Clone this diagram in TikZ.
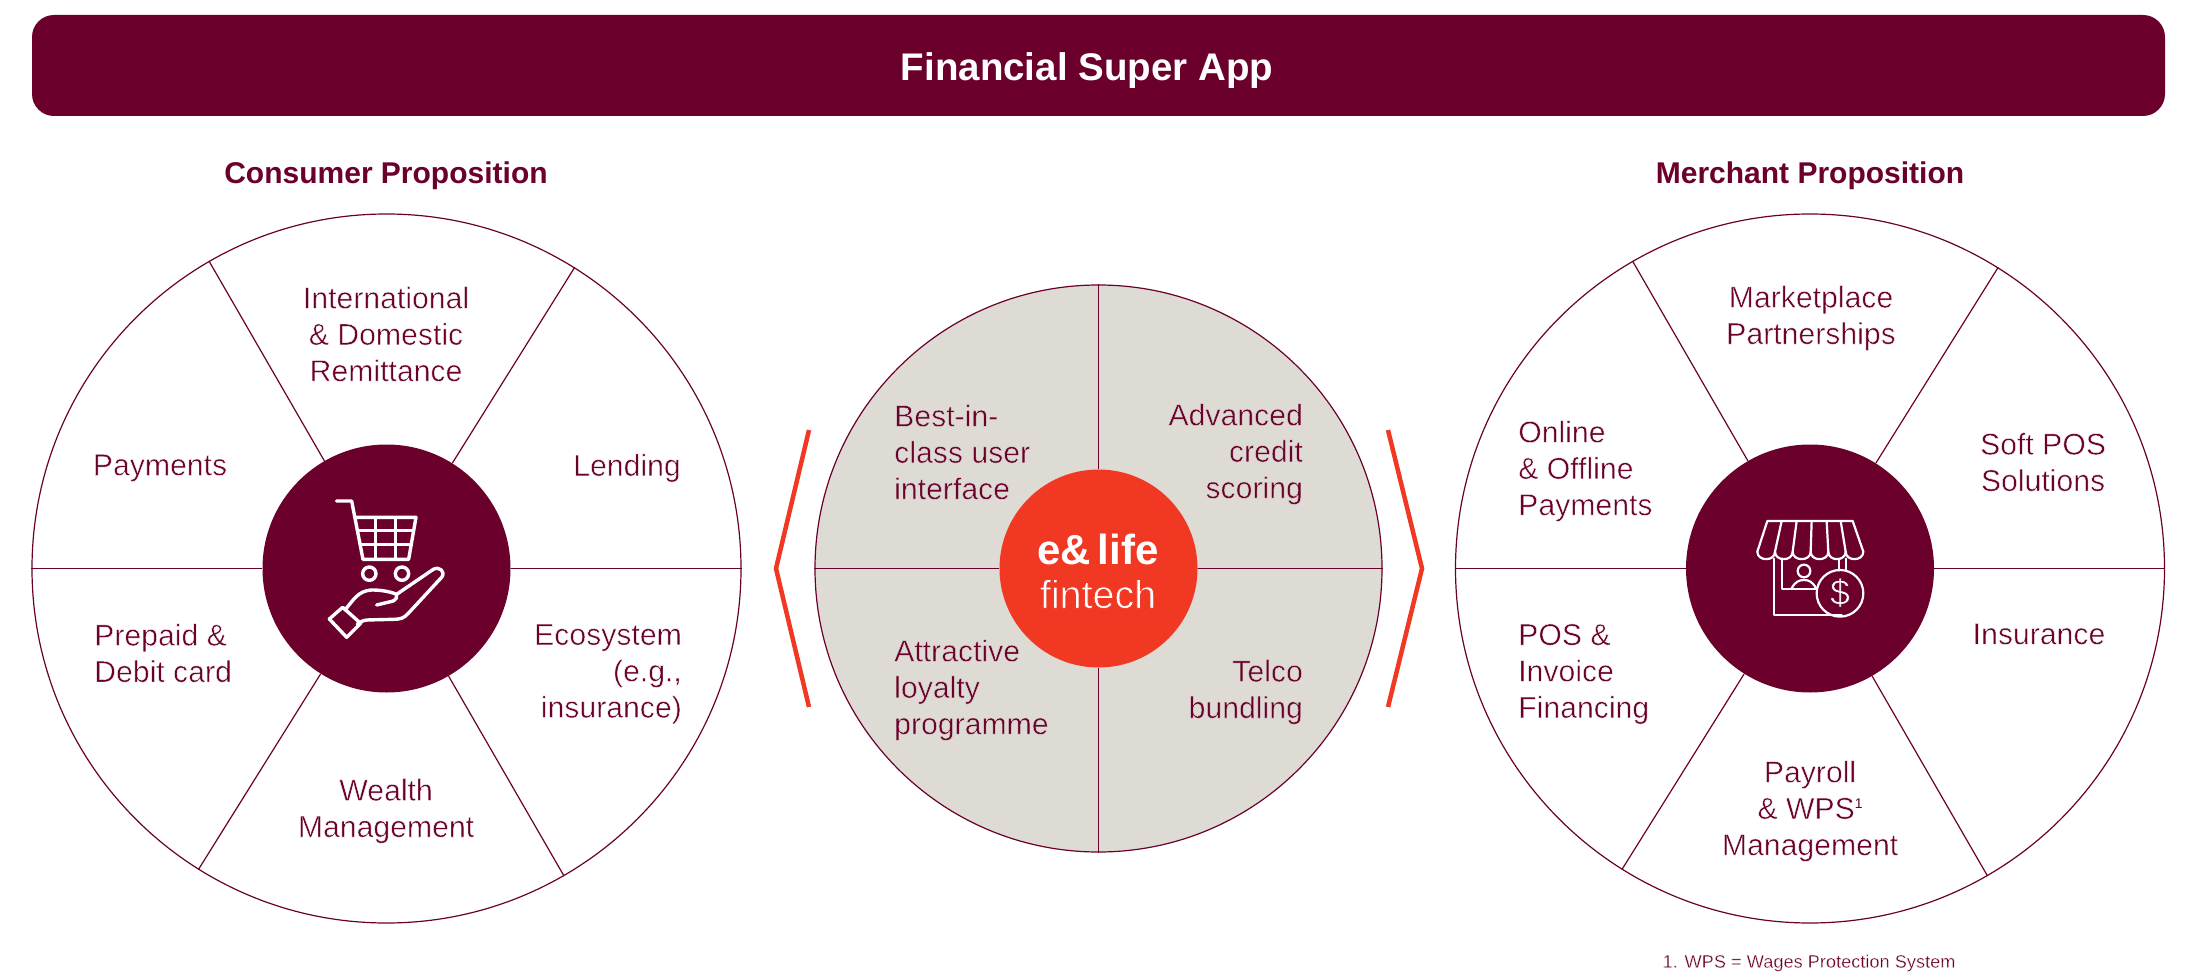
\documentclass[tikz,border=0pt]{standalone}
\usepackage{fontspec}
\setmainfont{Liberation Sans}
\newfontfamily\boldf{Liberation Sans Bold}
\usetikzlibrary{calc}
\definecolor{maroon}{HTML}{6A002B}
\definecolor{sand}{HTML}{DEDBD4}
\definecolor{flame}{HTML}{F03823}
\newcommand{\bodysize}{\fontsize{30.2}{36.4}\selectfont}
\tikzset{
  wheel/.style={circle,draw=maroon,line width=1.2pt,fill=white,minimum size=709pt,inner sep=0pt},
  hub/.style={circle,fill=maroon,minimum size=248pt,inner sep=0pt},
  spoke/.style={draw=maroon,line width=1.2pt},
  lbl/.style={font=\bodysize,inner sep=0pt,execute at begin node={\color{maroon}\special{pdf:code 2 Tr 0.45 w 1 1 1 RG}}},
  slbl/.style={font=\bodysize,inner sep=0pt,execute at begin node={\color{maroon}\special{pdf:code 2 Tr 0.45 w 0.871 0.859 0.831 RG}}},
  head/.style={text=maroon,font=\boldf\fontsize{30}{36}\selectfont,inner sep=0pt},
  chev/.style={draw=flame,line width=4.5pt,miter limit=10},
  ico/.style={draw=white,line width=3.4pt,line cap=round,line join=round},
  icot/.style={draw=white,line width=2.2pt,line cap=round,line join=round},
}
\begin{document}
\begin{tikzpicture}[x=1pt,y=-1pt]
\useasboundingbox (0,0) rectangle (2190,973);
\fill[white] (0,0) rectangle (2190,973);
% banner
\node[fill=maroon,rounded corners=22pt,minimum width=2133pt,minimum height=101pt,inner sep=0pt] (banner) at (1098.5,65.5) {};
\node[inner sep=0pt,text=white,font=\boldf\fontsize{38.5}{44}\selectfont] (title) at (1087,71) {Financial Super App};
\node[head] (chead) at (386,176) {Consumer Proposition};
\node[head] (mhead) at (1810,176) {Merchant Proposition};
% left wheel
\node[wheel] (lw) at (386.5,568.5) {};
\node[hub] (lh) at (386.5,568.5) {};
\foreach \a in {0,58,120,180,238,300} \draw[spoke] (lh.\a) -- (lw.\a);
% right wheel
\node[wheel] (rw) at (1810,568.5) {};
\node[hub] (rh) at (1810,568.5) {};
\foreach \a in {0,58,120,180,238,300} \draw[spoke] (rh.\a) -- (rw.\a);
% centre
\node[wheel,fill=sand,minimum size=567pt] (cw) at (1098.5,568.5) {};
\node[circle,fill=flame,minimum size=198pt,inner sep=0pt] (ch) at (1098.5,568.5) {};
\foreach \a in {0,90,180,270} \draw[spoke] (ch.\a) -- (cw.\a);
\node[inner sep=0pt,text=white,font=\boldf\fontsize{42}{42}\selectfont] (logo) at (1098,549) {e\&\,life};
\node[inner sep=0pt,font=\fontsize{39.5}{39}\selectfont,execute at begin node={\color{white}\special{pdf:code 2 Tr 0.7 w 0.941 0.22 0.137 RG}}] (fin) at (1098,594) {fintech};
% chevrons
\coordinate (cl1) at (809,430); \coordinate (cl2) at (776,568.5); \coordinate (cl3) at (809,707);
\coordinate (cr1) at (1388,430); \coordinate (cr2) at (1422,568.5); \coordinate (cr3) at (1388,707);
\draw[chev] (cl1) -- (cl2) -- (cl3);
\draw[chev] (cr1) -- (cr2) -- (cr3);
% left labels
\node[lbl,align=center] (l1) at (386,334) {International\\\& Domestic\\Remittance};
\node[lbl] (l2) at (160,468) {Payments};
\node[lbl] (l3) at (627,468) {Lending};
\node[lbl,align=left,anchor=west] (l4) at (94,653) {Prepaid \&\\Debit card};
\node[lbl,align=right,anchor=east] (l5) at (682,674) {Ecosystem\\(e.g.,\\insurance)};
\node[lbl,align=center] (l6) at (386,811) {Wealth\\Management};
% centre labels
\node[slbl,align=left,anchor=west] (c1) at (894,452) {Best-in-\\class user\\interface};
\node[slbl,align=right,anchor=east] (c2) at (1303,454) {Advanced\\credit\\scoring};
\node[slbl,align=left,anchor=west] (c3) at (894,690) {Attractive\\loyalty\\programme};
\node[slbl,align=right,anchor=east] (c4) at (1303,692) {Telco\\bundling};
% right labels
\node[lbl,align=center] (r1) at (1811,318) {Marketplace\\Partnerships};
\node[lbl,align=center] (r2) at (2043,462) {Soft POS\\Solutions};
\node[lbl,align=left,anchor=west] (r3) at (1518,471) {Online\\\& Offline\\Payments};
\node[lbl,align=left,anchor=west] (r4) at (1518,674) {POS \&\\Invoice\\Financing};
\node[lbl] (r5) at (2039,634) {Insurance};
\node[lbl,align=center] (r6) at (1810,811) {Payroll\\\& WPS\special{pdf:code 0 Tr}\raisebox{10pt}{\fontsize{14}{14}\selectfont 1}\special{pdf:code 2 Tr}\\Management};
\node[inner sep=0pt,font=\fontsize{18.2}{22}\selectfont,execute at begin node={\color{maroon}\special{pdf:code 2 Tr 0.25 w 1 1 1 RG}}] (foot) at (1809,963) {1. WPS = Wages Protection System};
% cart icon
\begin{scope}[shift={(250,440)},x=0.3333pt,y=-0.3333pt]
\draw[ico] (260,183) -- (305,183) -- (339,358) -- (476,358) -- (498,232) -- (315,232);
\draw[icot,line width=3pt] (322,272) -- (491,272) (331,315) -- (484,315) (376,232) -- (376,358) (436,232) -- (436,358);
\draw[ico] (358,401) circle (20) (456,401) circle (20);
\draw[ico] (238,537) -- (278,502) -- (332,550) -- (290,592) -- cycle;
\draw[ico] (285,510) .. controls (310,480) and (325,452) .. (365,450) .. controls (395,450) and (420,455) .. (440,463)
  -- (550,388) .. controls (568,378) and (588,395) .. (575,412) -- (475,520) .. controls (462,535) and (450,538) .. (430,538)
  -- (352,540) .. controls (340,541) and (332,545) .. (322,552);
\draw[ico] (380,495) -- (430,483) .. controls (438,480) and (442,472) .. (440,463);
\end{scope}
% store icon
\begin{scope}[shift={(1680,440)},x=0.3333pt,y=-0.3333pt]
\draw[icot] (232,335) -- (262,243) -- (518,243) -- (550,335);
\draw[icot] (305,243) -- (285,335) (350,243) -- (338,335) (395,243) -- (392,335) (440,243) -- (445,335) (482,243) -- (497,335);
\draw[icot] (232,335) .. controls (232,365) and (285,365) .. (285,335)
  .. controls (285,365) and (338,365) .. (338,335)
  .. controls (338,365) and (392,365) .. (392,335)
  .. controls (392,365) and (445,365) .. (445,335)
  .. controls (445,365) and (497,365) .. (497,335)
  .. controls (497,365) and (550,365) .. (550,335);
\draw[icot] (283,356) -- (283,525) -- (485,525);
\draw[icot] (305,356) -- (305,448) -- (410,448);
\draw[icot] (478,356) -- (478,392) (498,356) -- (498,392);
\draw[icot] (480,460) circle (70);
\draw[icot] (372,393) circle (19);
\draw[icot] (335,445) .. controls (345,425) and (358,420) .. (372,420) .. controls (386,420) and (398,425) .. (408,445);
\node[inner sep=0pt,font=\fontsize{36}{36}\selectfont,execute at begin node={\color{white}\special{pdf:code 2 Tr 0.7 w 0.416 0 0.169 RG}}] (dollar) at (480,458) {\$};
\end{scope}
\end{tikzpicture}
\end{document}
